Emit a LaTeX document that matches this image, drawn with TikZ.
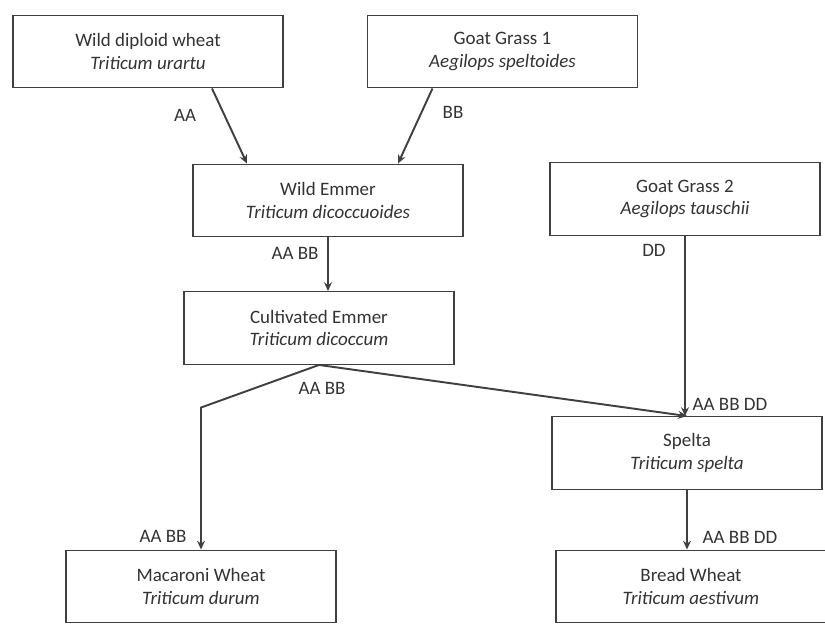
\documentclass[tikz,border=0pt]{standalone}
\usepackage{fontspec}
\setmainfont{Carlito}
\usetikzlibrary{arrows.meta}

\tikzset{
	species/.style={draw=black!75, line width=0.8pt, fill=white, minimum width=5.4cm, minimum height=1.45cm, align=center, text=black!80, font=\fontsize{10.8}{13}\selectfont},
	genome/.style={text=black!80, font=\fontsize{10.8}{13}\selectfont, inner sep=1pt},
	cross/.style={->, draw=black!75, line width=1.1pt},
}

\begin{document}
\begin{tikzpicture}[>={Stealth[length=5pt,width=4.5pt]}]
		\useasboundingbox (0,0) rectangle (16.5,-12.5);

		\node[species] (urartu) at (2.96,-1.03) {Wild diploid wheat\\ \textit{Triticum urartu}};
		\node[species] (speltoides) at (10.05,-1.03) {Goat Grass 1\\ \textit{Aegilops speltoides}};
		\node[species] (wildemmer) at (6.56,-4.01) {Wild Emmer\\ \textit{Triticum dicoccuoides}};
		\node[species] (tauschii) at (13.7,-3.98) {Goat Grass 2\\ \textit{Aegilops tauschii}};
		\node[species] (cultemmer) at (6.38,-6.56) {Cultivated Emmer\\ \textit{Triticum dicoccum}};
		\node[species] (spelta) at (13.74,-9.06) {Spelta\\ \textit{Triticum spelta}};
		\node[species] (durum) at (4.02,-11.73) {Macaroni Wheat\\ \textit{Triticum durum}};
		\node[species] (aestivum) at (13.82,-11.73) {Bread Wheat\\ \textit{Triticum aestivum}};

		\draw[cross] ([xshift=1.28cm]urartu.south) -- ([xshift=-1.62cm]wildemmer.north);
		\draw[cross] ([xshift=-1.4cm]speltoides.south) -- ([xshift=1.4cm]wildemmer.north);
		\draw[cross] (wildemmer.south) -- (wildemmer.south |- cultemmer.north);
		\draw[cross] (cultemmer.south) -- ([yshift=2.84cm]durum.north) -- (durum.north);
		\draw[cross] (cultemmer.south) -- (spelta.north);
		\draw[cross] (tauschii.south) -- (tauschii.south |- spelta.north);
		\draw[cross] (spelta.south) -- (spelta.south |- aestivum.north);

		\node[genome] (aa) at (3.7,-2.3) {AA};
		\node[genome] (bb) at (9.06,-2.24) {BB};
		\node[genome] (wegenome) at (5.9,-5.06) {AA BB};
		\node[genome] (cegenome) at (6.44,-7.76) {AA BB};
		\node[genome] (dd) at (13.08,-5.0) {DD};
		\node[genome] (spgenome) at (14.6,-8.08) {AA BB DD};
		\node[genome] (dugenome) at (3.26,-10.72) {AA BB};
		\node[genome] (aegenome) at (14.8,-10.74) {AA BB DD};
	\end{tikzpicture}
\end{document}
